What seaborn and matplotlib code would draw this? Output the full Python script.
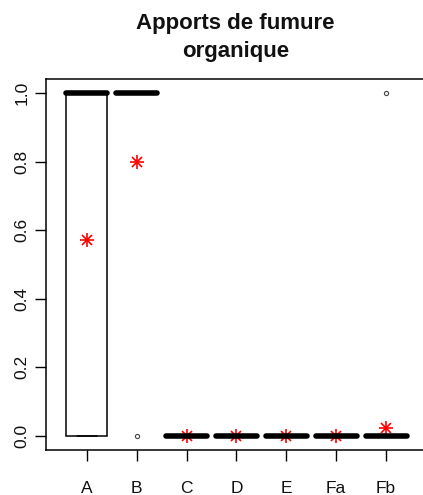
import numpy as np
import pandas as pd
import matplotlib
matplotlib.use("Agg")
import matplotlib.pyplot as plt
import seaborn as sns

# Data: binary (0/1) observations per group, read as counts of 1s and 0s
categories = ["A", "B", "C", "D", "E", "Fa", "Fb"]
n_ones = [4, 4, 0, 0, 0, 0, 1]
n_zeros = [3, 1, 10, 10, 10, 10, 40]
title = "Apports de fumure\norganique"
yticks = [0.0, 0.2, 0.4, 0.6, 0.8, 1.0]

rows = []
for c, k1, k0 in zip(categories, n_ones, n_zeros):
    rows += [(c, 1.0)] * k1 + [(c, 0.0)] * k0
df = pd.DataFrame(rows, columns=["cat", "val"])

sns.set_theme(style="white")
plt.rcParams["font.family"] = ["Liberation Sans", "DejaVu Sans"]

fig = plt.figure(figsize=(4.23, 4.95), dpi=100)
ax = fig.add_axes([46 / 423, 45 / 495, 379 / 423, 371 / 495])

sns.boxplot(
    data=df, x="cat", y="val", order=categories, ax=ax,
    color="white", linecolor="black", linewidth=1.1, width=0.82,
    whis=1.5, showcaps=True,
    boxprops=dict(facecolor="white", edgecolor="black"),
    medianprops=dict(color="black", linewidth=4, solid_capstyle="round"),
    flierprops=dict(marker="o", markerfacecolor="none", markeredgecolor="#444444",
                    markersize=3, markeredgewidth=0.8),
)
for m in ["+", "x"]:
    sns.pointplot(
        data=df, x="cat", y="val", order=categories, ax=ax,
        estimator="mean", errorbar=None, color="red",
        marker=m, markersize=10 if m == "+" else 7.5, markeredgewidth=1.2,
        linestyle="none",
    )

ax.set_xlim(-0.82, 6.78)
ax.set_ylim(-0.041, 1.041)
ax.set_yticks(yticks)
ax.set_yticklabels([f"{v:.1f}" for v in yticks])
ax.set_xlabel("")
ax.set_ylabel("")
ax.tick_params(axis="both", which="both", direction="out", length=8, width=1,
               color="black", labelsize=12.5, labelcolor="#111111",
               bottom=True, left=True, top=False, right=False)
ax.tick_params(axis="y", labelrotation=90, pad=4)
ax.tick_params(axis="x", pad=14)
for lab in ax.get_yticklabels():
    lab.set_va("center")
ax.grid(False)
for s in ["left", "bottom", "top"]:
    ax.spines[s].set_visible(True)
    ax.spines[s].set_color("black")
    ax.spines[s].set_linewidth(1.1)
ax.spines["right"].set_visible(False)

ax.set_title(title, fontsize=16, fontweight="bold", pad=16, linespacing=1.4,
             color="#111111")

fig.savefig("out.png", dpi=100)
